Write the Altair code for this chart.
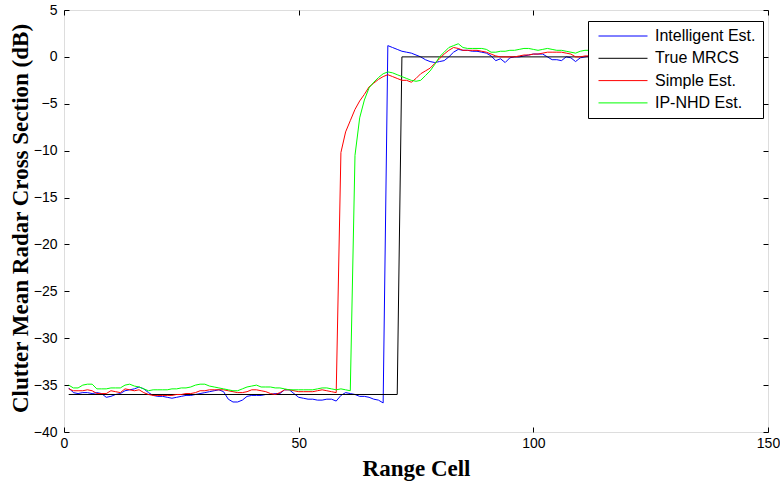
import altair as alt
import pandas as pd

# ---------------- data ----------------
series_names = ["Intelligent Est.", "True MRCS", "Simple Est.", "IP-NHD Est."]
series_colors = ["#0000FF", "#000000", "#FF0000", "#00FF00"]

cells = list(range(1, 129))

intelligent = [
    -35.3, -35.8, -35.9, -35.8, -35.8, -35.9, -35.8, -35.9, -36.3, -36.2,
    -36.0, -35.9, -35.6, -35.5, -35.4, -35.2, -35.4, -35.8, -36.1, -36.2,
    -36.2, -36.3, -36.4, -36.3, -36.2, -36.1, -36.1, -36.0, -35.9, -35.8,
    -35.7, -35.6, -35.5, -35.7, -36.5, -36.8, -36.8, -36.6, -36.2, -36.1,
    -36.1, -36.1, -36.0, -36.0, -35.9, -35.9, -35.5, -35.5, -35.9, -36.3,
    -36.4, -36.5, -36.5, -36.6, -36.6, -36.5, -36.5, -36.7, -36.1, -35.8,
    -35.9, -36.0, -36.2, -36.2, -36.3, -36.5, -36.6, -36.9, 1.2, 1.0,
    0.8, 0.6, 0.5, 0.4, 0.2, 0.0, -0.3, -0.5, -0.6, -0.5,
    -0.4, 0.0, 0.5, 0.8, 0.7, 0.7, 0.6, 0.6, 0.5, 0.4,
    0.1, -0.4, -0.2, -0.6, -0.1, 0.0, 0.0, 0.1, 0.2, 0.3,
    0.3, 0.3, 0.0, -0.3, -0.3, -0.4, 0.0, -0.1, -0.5, -0.1,
    0.0, 0.1, 0.3, 0.2, -0.1, 0.1, 0.3, 0.0, -0.2, 0.1,
    0.2, 0.0, -0.3, 0.1, 0.2, 0.1, -0.1, 0.0,
]

simple = [
    -35.4, -35.6, -35.6, -35.6, -35.5, -35.6, -35.9, -35.9, -35.9, -35.6,
    -35.7, -35.8, -35.4, -35.5, -35.6, -35.5, -35.8, -36.0, -36.1, -36.1,
    -36.1, -36.1, -36.1, -36.0, -36.0, -35.9, -35.9, -35.8, -35.6, -35.6,
    -35.5, -35.5, -35.5, -35.5, -35.6, -35.7, -35.8, -35.8, -35.7, -35.5,
    -35.5, -35.6, -35.7, -35.9, -36.0, -35.8, -35.5, -35.5, -35.6, -35.7,
    -35.7, -35.7, -35.7, -35.6, -35.5, -35.6, -35.7, -35.8, -10.2, -8.0,
    -6.8, -5.6, -4.7, -4.0, -3.2, -2.8, -2.4, -2.1, -1.9, -2.1,
    -2.3, -2.5, -2.5, -2.7, -2.3, -1.8, -1.5, -1.2, -0.7, -0.2,
    0.3, 0.7, 1.0, 0.9, 0.7, 0.7, 0.7, 0.7, 0.6, 0.5,
    0.3, 0.1, 0.0, 0.0, 0.0, 0.0, 0.1, 0.2, 0.2, 0.3,
    0.3, 0.4, 0.5, 0.5, 0.5, 0.5, 0.4, 0.3, 0.0, 0.0,
    0.1, 0.1, 0.2, 0.3, 0.2, 0.0, 0.1, 0.3, 0.4, 0.2,
    0.0, 0.1, 0.2, 0.3, 0.1, 0.0, 0.2, 0.1,
]

ipnhd = [
    -35.0, -35.3, -35.3, -35.0, -34.9, -34.9, -35.4, -35.4, -35.4, -35.3,
    -35.3, -35.3, -35.0, -34.9, -35.1, -35.2, -35.4, -35.6, -35.5, -35.5,
    -35.5, -35.5, -35.4, -35.4, -35.3, -35.3, -35.2, -35.0, -34.9, -34.9,
    -35.1, -35.2, -35.3, -35.4, -35.5, -35.6, -35.6, -35.4, -35.2, -35.1,
    -35.0, -35.2, -35.2, -35.2, -35.3, -35.3, -35.4, -35.5, -35.5, -35.5,
    -35.5, -35.5, -35.5, -35.4, -35.3, -35.3, -35.4, -35.5, -35.4, -35.5,
    -35.6, -10.5, -6.5, -4.6, -3.3, -2.7, -2.2, -1.8, -1.6, -1.7,
    -1.9, -2.1, -2.3, -2.5, -2.6, -2.5, -2.0, -1.5, -0.8, 0.0,
    0.5, 1.0, 1.2, 1.4, 1.0, 0.9, 0.9, 0.9, 0.9, 0.8,
    0.5, 0.5, 0.6, 0.6, 0.7, 0.7, 0.8, 0.9, 0.9, 0.8,
    0.7, 0.8, 0.9, 0.8, 0.7, 0.7, 0.6, 0.5, 0.4, 0.6,
    0.7, 0.7, 0.8, 0.9, 0.8, 0.7, 0.8, 1.0, 0.9, 0.7,
    0.6, 0.8, 0.9, 0.8, 0.7, 0.8, 0.9, 0.8,
]

# True MRCS is a step: its corner points
true_cells = [1, 71, 72, 128]
true_values = [-36, -36, 0, 0]

x_ticks = [0, 50, 100, 150]
y_ticks = [-40, -35, -30, -25, -20, -15, -10, -5, 0, 5]

# ---------------- build table ----------------
rows = []
for name, xs, ys in [
    ("Intelligent Est.", cells, intelligent),
    ("True MRCS", true_cells, true_values),
    ("Simple Est.", cells, simple),
    ("IP-NHD Est.", cells, ipnhd),
]:
    for x, y in zip(xs, ys):
        rows.append({"series": name, "cell": x, "value": y})
df = pd.DataFrame(rows)

W, H = 704, 422
TICK = 5

x_scale = alt.Scale(domain=[0, 150], nice=False, zero=False)
y_scale = alt.Scale(domain=[-40, 5], nice=False, zero=False)

common = dict(
    domain=False, grid=False, ticks=True, tickSize=TICK, tickColor="black",
    tickWidth=1, offset=-TICK,
    labelFont="Liberation Sans", labelFontSize=14, labelColor="black",
)
title_style = dict(
    titleFont="Liberation Serif", titleFontSize=23, titleFontWeight="bold",
    titleColor="black",
)

x_axis = alt.Axis(
    orient="bottom", values=x_ticks, labelPadding=4, title="Range Cell",
    titleX=W / 2, titleY=41, titleBaseline="middle", titleAlign="center",
    labelFlush=False, **common, **title_style,
)
y_axis = alt.Axis(
    orient="left", values=y_ticks, labelPadding=7,
    title="Clutter Mean Radar Cross Section (dB)",
    titleX=-49, titleY=H / 2 - 3, titleBaseline="middle", titleAlign="center",
    titleAngle=-90, labelFlush=False, **common, **title_style,
)
x_axis_top = alt.Axis(orient="top", values=x_ticks, labels=False, title=None, **common)
y_axis_right = alt.Axis(orient="right", values=y_ticks, labels=False, title=None, **common)

legend = alt.Legend(
    title=None, orient="none", legendX=524, legendY=11, direction="vertical",
    fillColor="white", strokeColor="black", padding=7,
    symbolType="stroke", symbolSize=2401, symbolStrokeWidth=1,
    symbolOffset=3, labelOffset=7, clipHeight=16,
    labelFont="Liberation Sans", labelFontSize=16, labelColor="black",
    rowPadding=6.3,
)

lines = alt.Chart(df).mark_line(strokeWidth=1).encode(
    x=alt.X("cell:Q", scale=x_scale, axis=x_axis),
    y=alt.Y("value:Q", scale=y_scale, axis=y_axis),
    color=alt.Color("series:N", scale=alt.Scale(domain=series_names, range=series_colors),
                    sort=series_names, legend=legend),
)

mirror = alt.Chart(df).mark_line(strokeOpacity=0).encode(
    x=alt.X("cell:Q", scale=x_scale, axis=x_axis_top),
    y=alt.Y("value:Q", scale=y_scale, axis=y_axis_right),
    detail="series:N",
)

chart = alt.layer(lines, mirror).resolve_axis(
    x="independent", y="independent"
).properties(
    width=W, height=H,
    autosize=alt.AutoSizeParams(type="none"),
    padding={"left": 64, "top": 10, "right": 12, "bottom": 52},
).configure_view(stroke="black", strokeWidth=1).configure(background="white")

chart.save("out.html", embed_options={"renderer": "svg", "actions": False})
